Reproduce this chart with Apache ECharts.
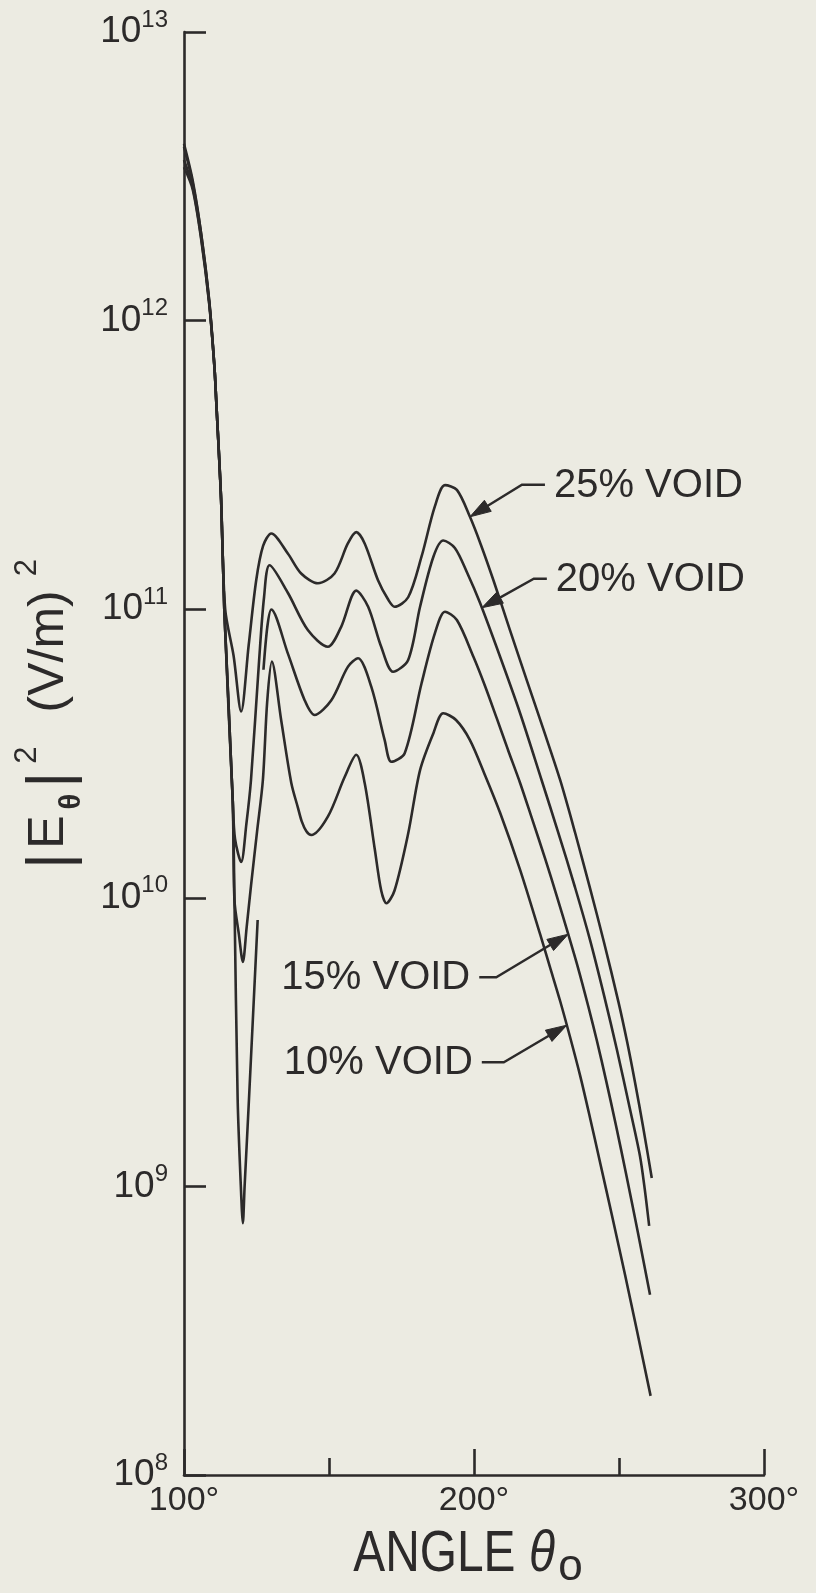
<!DOCTYPE html>
<html>
<head>
<meta charset="utf-8">
<title>|Eθ|² versus angle for several void fractions</title>
<script src="https://cdn.jsdelivr.net/npm/echarts@6/dist/echarts.min.js"></script>
<style>
  html, body { margin: 0; padding: 0; background: #ecebe2; }
  #chart { width: 816px; height: 1593px; }
</style>
</head>
<body>
<div id="chart"></div>
<script>
// Field intensity |E_theta|^2 in (V/m)^2 versus angle theta_0 (degrees).
// A null value marks a pen lift (gap) in a curve.

const angles25 = [100, 103, 105.9, 108.7, 110.5, 111.1, 112.8, 114.2, 117.1, 119.7, 122.3, 124.9, 127.3, 130.1,
  135.8, 140.4, 146.2, 151.9, 156.5, 159.4, 162.3, 166.9, 170.4, 172.6, 177.3, 181.9, 186.5, 190.0, 194.1,
  198.6, 202.4, 206.7, 212.4, 218.3, 223.8, 229.7, 234.8, 240.0, 244.8, 249.8, 252.8, 255.5, 258.3, 261.3];
const values25 = [4.1e12, 3.06e12, 2.01e12, 1.17e12, 6.9e11, 5.3e11, 2.39e11, 1.0e11, 6.9e10, 4.42e10, 7.5e10, 1.26e11, 1.66e11, 1.83e11,
  1.56e11, 1.33e11, 1.23e11, 1.33e11, 1.69e11, 1.85e11, 1.69e11, 1.26e11, 1.08e11, 1.02e11, 1.10e11, 1.52e11, 2.27e11, 2.69e11, 2.59e11,
  2.09e11, 1.67e11, 1.26e11, 8.46e10, 5.63e10, 3.87e10, 2.56e10, 1.69e10, 1.08e10, 7.03e9, 4.36e9, 3.17e9, 2.30e9, 1.61e9, 1.07e9];

const angles20 = [100, 103, 105.9, 108.7, 110.5, 111.1, 112.8, 113.9, 116.8, 117.6, 119.7, 121.5, 123.1, 125.9, 127.6, 129.5,
  135.8, 142.7, 149.6, 154.2, 159.4, 163.5, 168.0, 172.1, 177.3, 181.4, 186.0, 189.4, 193.4, 197.6, 202.1,
  209.0, 215.9, 223.3, 229.0, 234.8, 240.0, 244.8, 249.3, 253.4, 257.2, 258.9, 260.4];
const values20 = [4.0e12, 3.0e12, 2.0e12, 1.17e12, 6.9e11, 5.3e11, 2.39e11, 9.9e10, 2.18e10, 1.6e10, 1.33e10, 1.8e10, 2.56e10, 6.65e10, 1.1e11, 1.42e11,
  1.14e11, 8.47e10, 7.41e10, 8.69e10, 1.16e11, 1.02e11, 7.41e10, 6.07e10, 6.67e10, 1.02e11, 1.52e11, 1.73e11, 1.63e11, 1.34e11, 1.05e11,
  6.84e10, 4.36e10, 2.56e10, 1.69e10, 1.09e10, 7.15e9, 4.61e9, 2.97e9, 1.93e9, 1.28e9, 9.75e8, 7.30e8];

const angles15 = [100, 103, 105.9, 108.7, 110.5, 111.1, 112.8, 113.9, 116.8, 117.4, 118.5, 119.6, 120.3, 120.9, 122.4, 125.4,
  126.4, 127.4, 128.8, 130.1, 135.8, 141.6, 145.0, 150.8, 156.5, 160.0, 164.6, 169.2, 171.5, 176.1, 181.9,
  186.5, 190.0, 194.1, 199.8, 203.8, 207.8, 211.7, 215.9, 220.0, 224.5, 228.6, 232.5, 235.9, 239.4, 242.4,
  245.5, 249.0, 252.4, 256.6, 260.7];
const values15 = [3.6e12, 2.9e12, 1.95e12, 1.15e12, 6.9e11, 5.3e11, 2.39e11, 9.9e10, 2.18e10, 9.8e9, 2.0e9, 1.0e9, 7.46e8, 1.0e9, 2.0e9, 8.38e9,
  null, 6.17e10, 8.8e10, 9.98e10, 7.03e10, 4.84e10, 4.30e10, 4.84e10, 6.31e10, 6.76e10, 5.38e10, 3.52e10, 2.96e10, 3.17e10, 5.53e10,
  8.24e10, 9.80e10, 9.17e10, 6.84e10, 5.42e10, 4.20e10, 3.26e10, 2.50e10, 1.88e10, 1.37e10, 1.01e10, 7.48e9, 5.71e9, 4.21e9, 3.19e9,
  2.34e9, 1.62e9, 1.11e9, 6.86e8, 4.21e8];

const angles10 = [100, 103, 105.9, 108.7, 110.5, 111.1, 112.8, 113.9, 116.8, 117.4, 118.9, 120.3, 121.6, 123.1, 125.2, 127.2,
  128.7, 130.3, 133.5, 137.0, 139.3, 140.6, 142.2, 143.9, 149.6, 155.4, 159.4, 162.3, 165.8, 168.0, 169.8, 172.6,
  177.3, 181.4, 186.0, 189.4, 193.8, 198.6, 203.8, 209.0, 215.9, 222.8, 226.2, 229.7, 233.1, 236.6, 240.0,
  243.4, 247.6, 252.1, 256.2, 260.9];
const values10 = [3.4e12, 2.85e12, 1.92e12, 1.14e12, 6.9e11, 5.3e11, 2.39e11, 9.9e10, 2.18e10, 9.8e9, 7.5e9, 6.0e9, 7.9e9, 1.1e10, 1.7e10, 2.56e10,
  4.8e10, 6.58e10, 4.13e10, 2.50e10, 2.05e10, 1.84e10, 1.70e10, 1.65e10, 1.91e10, 2.62e10, 3.13e10, 2.50e10, 1.47e10, 1.06e10, 9.57e9, 1.06e10,
  1.67e10, 2.77e10, 3.72e10, 4.36e10, 4.13e10, 3.52e10, 2.66e10, 1.97e10, 1.25e10, 7.48e9, 5.75e9, 4.39e9, 3.30e9, 2.42e9, 1.73e9,
  1.22e9, 7.91e8, 4.93e8, 3.16e8, 1.88e8];

const seriesNames = ['25% VOID', '20% VOID', '15% VOID', '10% VOID'];
const seriesAngles = [angles25, angles20, angles15, angles10];
const seriesValues = [values25, values20, values15, values10];

// Angle on each curve where its label arrow points.
const arrowAngles = [198.6, 202.7, 232.5, 232.0];

const xTickValues = [100, 200, 300];
const yExponents = [8, 9, 10, 11, 12, 13];

const INK = '#2c2a2a';
const BG = '#ecebe2';
const SANS = '"Liberation Sans", Arial, Helvetica, sans-serif';

function pairs(angles, values) {
  return angles.map((a, i) => [a, values[i] == null ? '-' : values[i]]);
}

function valueAt(angles, values, a) {
  for (let i = 0; i < angles.length - 1; i++) {
    if (values[i] == null || values[i + 1] == null) continue;
    if (a >= angles[i] && a <= angles[i + 1]) {
      const t = (a - angles[i]) / (angles[i + 1] - angles[i]);
      return Math.pow(10, Math.log10(values[i]) * (1 - t) + Math.log10(values[i + 1]) * t);
    }
  }
  return null;
}

const measureCtx = document.createElement('canvas').getContext('2d');
function textWidth(str, font) {
  measureCtx.font = font;
  return measureCtx.measureText(str).width;
}

const GRID = { left: 184, right: 52, top: 32, bottom: 118 };

const chart = echarts.init(document.getElementById('chart'), null, { renderer: 'canvas' });

chart.setOption({
  backgroundColor: BG,
  animation: false,
  grid: Object.assign({ containLabel: false }, GRID),
  xAxis: {
    type: 'value',
    min: xTickValues[0],
    max: xTickValues[xTickValues.length - 1],
    interval: xTickValues[1] - xTickValues[0],
    axisLine: { show: true, lineStyle: { color: INK, width: 2.6 } },
    axisTick: { show: true, inside: true, length: 26, lineStyle: { color: INK, width: 2.6 } },
    minorTick: { show: true, splitNumber: 2, length: 17, lineStyle: { color: INK, width: 2.6 } },
    splitLine: { show: false },
    axisLabel: {
      margin: 9,
      color: INK,
      fontFamily: SANS,
      fontSize: 34,
      formatter: v => v + '°'
    }
  },
  yAxis: {
    type: 'log',
    logBase: 10,
    min: Math.pow(10, yExponents[0]),
    max: Math.pow(10, yExponents[yExponents.length - 1]),
    splitNumber: yExponents.length - 1,
    axisLine: { show: true, lineStyle: { color: INK, width: 2.6 } },
    axisTick: { show: true, inside: true, length: 22, lineStyle: { color: INK, width: 2.6 } },
    minorTick: { show: false },
    splitLine: { show: false },
    axisLabel: {
      margin: 16,
      formatter: v => '{b|10}{e|' + Math.round(Math.log10(v)) + '}',
      rich: {
        b: { fontFamily: SANS, fontSize: 37, color: INK, lineHeight: 48 },
        e: { fontFamily: SANS, fontSize: 24, color: INK, verticalAlign: 'top', lineHeight: 26 }
      }
    }
  },
  series: seriesNames.map((name, i) => ({
    name,
    type: 'line',
    data: pairs(seriesAngles[i], seriesValues[i]),
    showSymbol: false,
    smooth: 0.3,
    connectNulls: false,
    lineStyle: { color: INK, width: 2.6 },
    z: 3
  }))
});

// Curve labels with leader lines and arrowheads.
const leaders = [
  { knee: [52, -32], run: 23 },
  { knee: [52, -29], run: 13 },
  { knee: [-72, 43], run: -17 },
  { knee: [-63, 37], run: -22 }
];

const graphics = [];
seriesNames.forEach((name, i) => {
  const a = arrowAngles[i];
  const v = valueAt(seriesAngles[i], seriesValues[i], a);
  const tip = chart.convertToPixel({ gridIndex: 0 }, [a, v]);
  const L = leaders[i];
  const knee = [tip[0] + L.knee[0], tip[1] + L.knee[1]];
  const end = [knee[0] + L.run, knee[1]];
  const dx = tip[0] - knee[0], dy = tip[1] - knee[1];
  const len = Math.hypot(dx, dy);
  const ux = dx / len, uy = dy / len;
  const bx = tip[0] - ux * 21, by = tip[1] - uy * 21;
  const nx = -uy, ny = ux;
  graphics.push({
    type: 'polyline',
    shape: { points: [end, knee, [tip[0] - ux * 10, tip[1] - uy * 10]] },
    style: { stroke: INK, lineWidth: 2.4, fill: null },
    z: 10
  });
  graphics.push({
    type: 'polygon',
    shape: { points: [tip, [bx + nx * 6.5, by + ny * 6.5], [bx - nx * 6.5, by - ny * 6.5]] },
    style: { fill: INK, stroke: INK, lineWidth: 1 },
    z: 10
  });
  const right = L.run > 0;
  graphics.push({
    type: 'text',
    x: end[0] + (right ? 9 : -9),
    y: end[1] + 1,
    style: {
      text: name,
      fontFamily: SANS,
      fontSize: 40,
      fill: INK,
      align: right ? 'left' : 'right',
      verticalAlign: 'middle'
    },
    z: 10
  });
});

// Axis titles built from text runs so that sub- and superscripts sit where they belong.
// A run may carry its own horizontal stretch (sx) inside a condensed group.
function titleGroup(parts, x, y, rotation, scaleX) {
  const children = [];
  let total = 0;
  parts.forEach(p => {
    p.font = (p.italic ? 'italic ' : '') + (p.bold ? 'bold ' : '') + p.size + 'px ' + SANS;
    p.w = textWidth(p.text, p.font) * (p.sx || 1);
    total += p.gap + p.w;
  });
  let cursor = -total / 2;
  parts.forEach(p => {
    cursor += p.gap;
    children.push({
      type: 'text',
      x: cursor,
      y: p.dy,
      scaleX: p.sx || 1,
      style: {
        text: p.text,
        fontFamily: SANS,
        fontSize: p.size,
        fontWeight: p.bold ? 'bold' : 'normal',
        fontStyle: p.italic ? 'italic' : 'normal',
        fill: INK,
        align: 'left',
        verticalAlign: 'middle'
      }
    });
    cursor += p.w;
  });
  return { type: 'group', x, y, rotation, scaleX: scaleX || 1, children, z: 10 };
}

const plotLeft = GRID.left;
const plotRight = 816 - GRID.right;
const plotBottom = 1593 - GRID.bottom;

graphics.push(titleGroup([
  { text: '|', size: 62, dy: 3, gap: 0 },
  { text: 'E', size: 50, dy: 0, gap: 4 },
  { text: 'θ', size: 29, bold: true, dy: 23, gap: 6 },
  { text: '|', size: 62, dy: 3, gap: 6 },
  { text: '2', size: 31, dy: -22, gap: 8 },
  { text: '(V/m)', size: 50, dy: 0, gap: 34 },
  { text: '2', size: 31, dy: -22, gap: 14 }
], 49, 714, Math.PI / 2, 1));

graphics.push(titleGroup([
  { text: 'ANGLE', size: 57, dy: 0, gap: 0 },
  { text: 'θ', size: 57, italic: true, dy: 0, gap: 16 },
  { text: 'o', size: 44, dy: 13, gap: 4, sx: 1.19 }
], (plotLeft + plotRight) / 2 - 6, plotBottom + 80, 0, 0.84));

chart.setOption({ graphic: graphics });
</script>
</body>
</html>
